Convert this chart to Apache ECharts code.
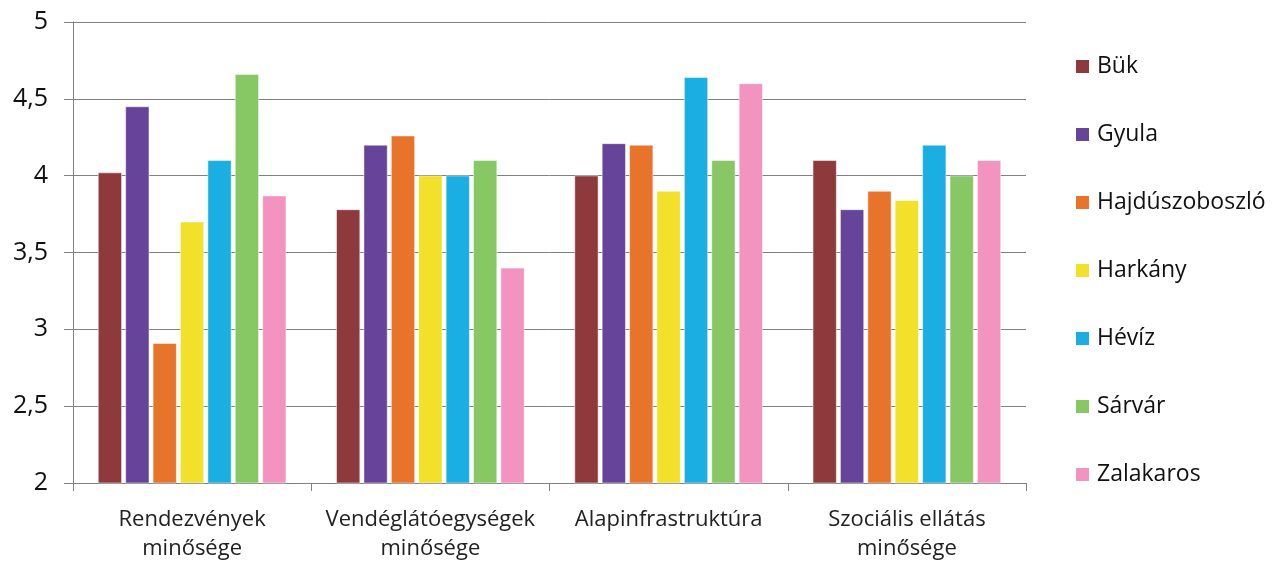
<!DOCTYPE html>
<html>
<head>
<meta charset="utf-8">
<script src="https://cdn.jsdelivr.net/npm/echarts@6/dist/echarts.min.js"></script>
<style>html,body{margin:0;padding:0;background:#fff}#c{width:1286px;height:563px}</style>
</head>
<body>
<div id="c"></div>
<script>
const categories = ['Rendezvények\nminősége', 'Vendéglátóegységek\nminősége', 'Alapinfrastruktúra', 'Szociális ellátás\nminősége'];
const seriesNames = ['Bük', 'Gyula', 'Hajdúszoboszló', 'Harkány', 'Hévíz', 'Sárvár', 'Zalakaros'];
const bukValues = [4.02, 3.78, 4.00, 4.10];
const gyulaValues = [4.45, 4.20, 4.21, 3.78];
const hajduValues = [2.91, 4.26, 4.20, 3.90];
const harkanyValues = [3.70, 4.00, 3.90, 3.84];
const hevizValues = [4.10, 4.00, 4.64, 4.20];
const sarvarValues = [4.66, 4.10, 4.10, 4.00];
const zalakarosValues = [3.87, 3.40, 4.60, 4.10];
const yTicks = [2, 2.5, 3, 3.5, 4, 4.5, 5];
const colors = ['#8E3A3C', '#65449A', '#E8732A', '#F2E02A', '#1BAEE2', '#87C764', '#F294BF'];

const allValues = [bukValues, gyulaValues, hajduValues, harkanyValues, hevizValues, sarvarValues, zalakarosValues];
const chart = echarts.init(document.getElementById('c'));
chart.setOption({
  animation: false,
  color: colors,
  grid: { left: 73, right: 260, top: 22, bottom: 77 },
  legend: {
    orient: 'vertical', left: 1069, top: 50, itemGap: 45,
    itemWidth: 15, itemHeight: 15,
    icon: 'rect',
    textStyle: { fontFamily: 'Open Sans', fontSize: 23, color: '#111111', padding: [0,0,0,2] },
    data: seriesNames
  },
  xAxis: {
    type: 'category', data: categories,
    axisLine: { lineStyle: { color: '#808080', width: 1 } },
    axisTick: { show: true, length: 8, lineStyle: { color: '#808080' } },
    axisLabel: { fontFamily: 'Open Sans', fontSize: 22, color: '#222222', margin: 22, lineHeight: 29, interval: 0 }
  },
  yAxis: {
    type: 'value', min: 2, max: 5, interval: 0.5,
    axisLine: { show: true, lineStyle: { color: '#808080' } },
    axisTick: { show: true, length: 9, lineStyle: { color: '#808080' } },
    splitLine: { lineStyle: { color: '#808080', width: 1 } },
    axisLabel: {
      fontFamily: 'Open Sans', fontSize: 25, color: '#111111', margin: 25,
      formatter: v => yTicks.includes(v) ? String(v).replace('.', ',') : ''
    }
  },
  series: seriesNames.map((n, i) => ({
    name: n, type: 'bar', data: allValues[i],
    barGap: '15%', barCategoryGap: '21%',
    itemStyle: { color: colors[i], borderColor: '#ffffff', borderWidth: 0.5 }
  }))
});
</script>
</body>
</html>
